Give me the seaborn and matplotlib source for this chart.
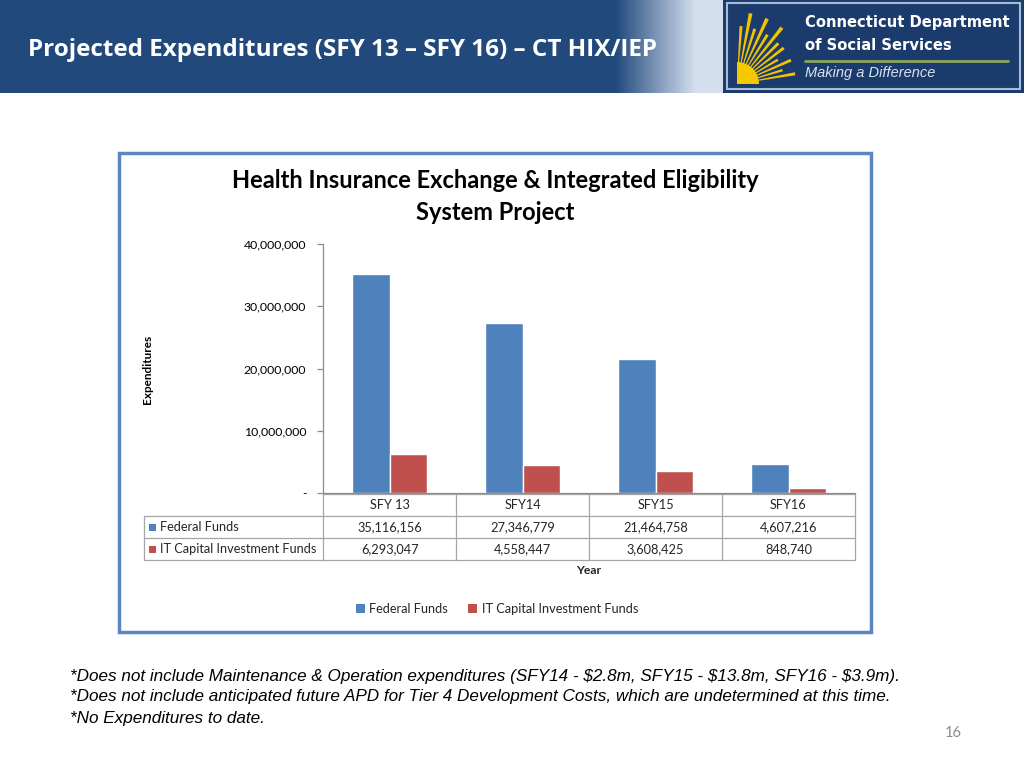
import numpy as np
import pandas as pd
import matplotlib
matplotlib.use("Agg")
import matplotlib.pyplot as plt
import matplotlib.transforms as mtrans
from matplotlib.patches import Rectangle, Polygon, Wedge
import seaborn as sns

# ---------------- data ----------------
years = ["SFY 13", "SFY14", "SFY15", "SFY16"]
federal = [35116156, 27346779, 21464758, 4607216]
it_capital = [6293047, 4558447, 3608425, 848740]
series = ["Federal Funds", "IT Capital Investment Funds"]
colors = ["#4F81BD", "#C0504D"]
yticks = [0, 10_000_000, 20_000_000, 30_000_000, 40_000_000]
ytick_labels = ["-", "10,000,000", "20,000,000", "30,000,000", "40,000,000"]

df = pd.DataFrame({
    "Year": years * 2,
    "Series": [series[0]] * len(years) + [series[1]] * len(years),
    "Value": federal + it_capital,
})

sns.set_theme(style="white")
plt.rcParams['font.family'] = ['Lato', 'DejaVu Sans']

W, H = 1024, 768
fig = plt.figure(figsize=(W / 100, H / 100), dpi=100)
fig.patch.set_facecolor("white")

# background / slide axes in pixel coords
bg = fig.add_axes([0, 0, 1, 1])
bg.set_xlim(0, W)
bg.set_ylim(H, 0)
bg.axis("off")

# header gradient bar
dark = np.array([0x21, 0x49, 0x7c]) / 255
light = np.array([0xd4, 0xdf, 0xee]) / 255
xs = np.arange(723)
t = np.clip((xs - 615) / 80.0, 0, 1)[:, None]
grad = (dark * (1 - t) + light * t)[None, :, :]
bg.imshow(grad, extent=[0, 723, 93, 0], aspect="auto", zorder=0)
bg.text(28, 50, "Projected Expenditures (SFY 13 \u2013 SFY 16) \u2013 CT HIX/IEP",
        color="white", fontsize=17.5, fontweight="bold", va="center", ha="left",
        family=["Open Sans", "DejaVu Sans"], zorder=2)

# logo
bg.add_patch(Rectangle((723, 0), 301, 93, facecolor="#1b3b6d", edgecolor="none", zorder=1))
bg.add_patch(Rectangle((727, 3), 293, 86, facecolor="none", edgecolor="#a9bcd6", lw=1.5, zorder=3))
clip = Rectangle((727, 3), 293, 86, transform=bg.transData)
cx, cy = 737, 84
for k, ang in enumerate(np.linspace(10, 86, 12)):
    a = np.deg2rad(ang)
    da = np.deg2rad(1.5)
    r = (72 if k % 2 == 0 else 58) * (0.82 if ang < 40 else 1.0)
    pts = [(cx, cy), (cx + r * np.cos(a - da), cy - r * np.sin(a - da)),
           (cx + r * np.cos(a + da), cy - r * np.sin(a + da))]
    p = Polygon(pts, closed=True, facecolor="#f2c300", edgecolor="none", zorder=2)
    bg.add_patch(p)
    p.set_clip_path(clip)
w = Wedge((cx, cy), 22, 270, 360, facecolor="#f5c800", edgecolor="none", zorder=2)
bg.add_patch(w)
w.set_clip_path(clip)
bg.text(805, 22, "Connecticut Department", color="white", fontsize=10.6, fontweight="bold",
        va="center", ha="left", family=["DejaVu Sans"], zorder=3)
bg.text(805, 45, "of Social Services", color="white", fontsize=10.6, fontweight="bold",
        va="center", ha="left", family=["DejaVu Sans"], zorder=3)
bg.plot([805, 1008], [61, 61], color="#8aa65a", lw=2, zorder=3)
bg.text(805, 73, "Making a Difference", color="#d9e2ef", fontsize=10.5, style="italic",
        va="center", ha="left", family=["Liberation Sans"], zorder=3)

# chart frame
bg.add_patch(Rectangle((119, 153), 752, 479, facecolor="white", edgecolor="#5b87c1", lw=2.5, zorder=1))
bg.text(495, 181, "Health Insurance Exchange & Integrated Eligibility", ha="center", va="center",
        fontsize=17, fontweight="bold", color="black", zorder=3)
bg.text(495, 212, "System Project", ha="center", va="center",
        fontsize=17, fontweight="bold", color="black", zorder=3)
bg.text(147, 369, "Expenditures", rotation=90, ha="center", va="center",
        fontsize=8.5, fontweight="bold", color="black", zorder=3)

# ---------------- bar chart ----------------
ax = fig.add_axes([323 / W, 1 - 493 / H, 532 / W, 249 / H])
ax.patch.set_alpha(0)
sns.barplot(data=df, x="Year", y="Value", hue="Series", palette=colors, width=0.57,
            gap=0, saturation=1, legend=False, ax=ax, order=years, hue_order=series)
ax.set_xlim(-0.5, len(years) - 0.5)
ax.set_ylim(0, 40_000_000)
ax.set_yticks(yticks, ytick_labels)
ax.set_xticks([])
ax.set_xlabel("")
ax.set_ylabel("")
for s in ["top", "right"]:
    ax.spines[s].set_visible(False)
for s in ["left", "bottom"]:
    ax.spines[s].set_color("#8c8c8c")
    ax.spines[s].set_linewidth(0.9)
ax.tick_params(axis="y", left=True, length=4, width=0.9, color="#8c8c8c",
               direction="out", labelsize=8.8, pad=8, labelcolor="black")

# ---------------- data table ----------------
tr = mtrans.blended_transform_factory(ax.transData, bg.transData)
grid_c = "#a6a6a6"
row_y = [494, 516, 538, 560]
nx = len(years)
fs = 9.2
bg.plot([-0.5, nx - 0.5], [row_y[0], row_y[0]], transform=tr, color=grid_c, lw=0.9, zorder=3)
for yv in row_y[1:]:
    bg.plot([144, 323], [yv, yv], color=grid_c, lw=0.9, zorder=3)
    bg.plot([-0.5, nx - 0.5], [yv, yv], transform=tr, color=grid_c, lw=0.9, zorder=3)
for i in range(nx + 1):
    bg.plot([i - 0.5, i - 0.5], [row_y[0], row_y[-1]], transform=tr, color=grid_c, lw=0.9, zorder=3)
bg.plot([144, 144], [row_y[1], row_y[-1]], color=grid_c, lw=0.9, zorder=3)

for i, yr in enumerate(years):
    bg.text(i, (row_y[0] + row_y[1]) / 2, yr, transform=tr, ha="center", va="center", fontsize=fs, zorder=4)
    bg.text(i, (row_y[1] + row_y[2]) / 2, f"{federal[i]:,}", transform=tr, ha="center", va="center",
            fontsize=fs, zorder=4)
    bg.text(i, (row_y[2] + row_y[3]) / 2, f"{it_capital[i]:,}", transform=tr, ha="center", va="center",
            fontsize=fs, zorder=4)
for k, (name, col) in enumerate(zip(series, colors)):
    yc = (row_y[k + 1] + row_y[k + 2]) / 2
    bg.add_patch(Rectangle((149, yc - 3.5), 7, 7, facecolor=col, edgecolor="none", zorder=4))
    bg.text(160, yc, name, ha="left", va="center", fontsize=fs, zorder=4)

bg.text((323 + 855) / 2, 571, "Year", ha="center", va="center", fontsize=8.8, fontweight="bold", zorder=4)

# legend
handles = [Rectangle((0, 0), 1, 1, facecolor=c, edgecolor="none") for c in colors]
fig.legend(handles, series, loc="center", bbox_to_anchor=(497 / W, 1 - 609 / H), ncol=2,
           frameon=False, fontsize=9.2, handlelength=0.7, handleheight=0.7,
           handletextpad=0.35, columnspacing=1.6)

# footnotes
notes = [
    "*Does not include Maintenance & Operation expenditures (SFY14 - $2.8m, SFY15 - $13.8m, SFY16 - $3.9m).",
    "*Does not include anticipated future APD for Tier 4 Development Costs, which are undetermined at this time.",
    "*No Expenditures to date.",
]
for j, n in enumerate(notes):
    bg.text(70, 676 + 21 * j, n, ha="left", va="center", fontsize=12.3, style="italic",
            family=["Liberation Sans"], color="black", zorder=3)
bg.text(953, 733, "16", ha="center", va="center", fontsize=10.5, color="#8c8c8c", zorder=3)

fig.savefig("out.png", dpi=100)
